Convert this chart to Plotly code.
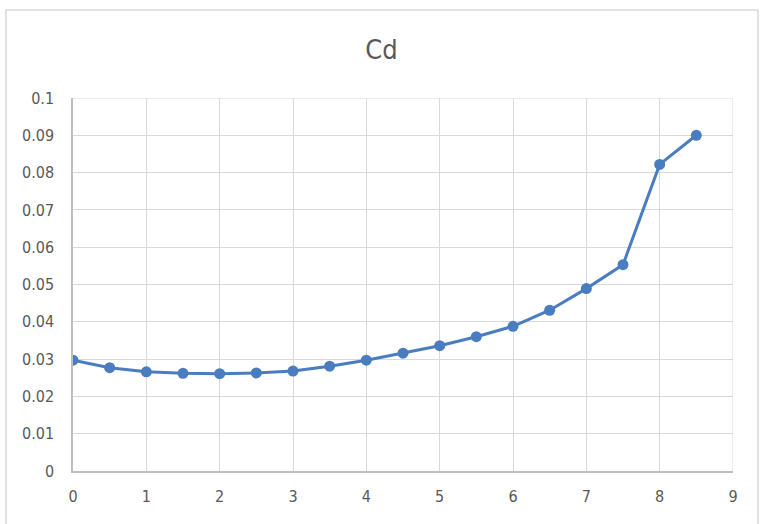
import plotly.graph_objects as go

# Drag coefficient samples
x_vals = [0, 0.5, 1, 1.5, 2, 2.5, 3, 3.5, 4, 4.5, 5, 5.5, 6, 6.5, 7, 7.5, 8, 8.5]
cd_vals = [0.0297, 0.0277, 0.0266, 0.0262, 0.0261, 0.0263, 0.0268, 0.0281, 0.0297,
           0.0316, 0.0336, 0.0360, 0.0388, 0.0431, 0.0489, 0.0553, 0.0822, 0.0900]

x_ticks = [0, 1, 2, 3, 4, 5, 6, 7, 8, 9]
y_ticks = [0, 0.01, 0.02, 0.03, 0.04, 0.05, 0.06, 0.07, 0.08, 0.09, 0.1]
y_labels = ["0", "0.01", "0.02", "0.03", "0.04", "0.05", "0.06", "0.07", "0.08", "0.09", "0.1"]

FONT = "Liberation Sans Narrow, DejaVu Sans Condensed, Arial Narrow, sans-serif"
LINE = "#4a7dbf"
GRID = "#d9d9d9"

fig = go.Figure(
    go.Scatter(
        x=x_vals, y=cd_vals, mode="lines+markers",
        line=dict(color=LINE, width=3),
        marker=dict(color=LINE, size=11),
        hoverinfo="x+y",
    )
)

fig.update_layout(
    width=763, height=524,
    margin=dict(l=73, r=30, t=98, b=53),
    paper_bgcolor="white", plot_bgcolor="white",
    showlegend=False,
    title=dict(text="Cd", x=0.5, xanchor="center", y=1 - 50 / 524, yanchor="middle",
               font=dict(family=FONT, size=27, color="#595959")),
    font=dict(family=FONT, size=16, color="#595959"),
    shapes=[
        dict(type="rect", xref="paper", yref="paper",
             x0=-67 / 660, x1=(758 - 73) / 660, y0=-0.3, y1=(471 - 10) / 373,
             line=dict(color="#d9d9d9", width=1.5), layer="below"),
    ],
)

fig.update_xaxes(
    range=[0, 9], tickvals=x_ticks, ticktext=[str(t) for t in x_ticks],
    showgrid=True, gridcolor=GRID, gridwidth=1,
    showline=True, linecolor="#bfbfbf", linewidth=1.5,
    zeroline=False, ticks="", ticklen=0, tickfont=dict(size=16),
    ticklabelstandoff=10,
    fixedrange=True,
)
fig.update_yaxes(
    range=[0, 0.1], tickvals=y_ticks, ticktext=y_labels,
    showgrid=True, gridcolor=GRID, gridwidth=1,
    showline=True, linecolor="#bfbfbf", linewidth=1.5,
    zeroline=False, ticks="", ticklen=0, tickfont=dict(size=16),
    ticklabelstandoff=14,
    fixedrange=True,
)

# grid closing edges at x=9 and y=0.1
fig.add_shape(type="line", xref="x", yref="y", x0=9, x1=9, y0=0, y1=0.1,
              line=dict(color=GRID, width=1), layer="below")
fig.add_shape(type="line", xref="x", yref="y", x0=0, x1=9, y0=0.1, y1=0.1,
              line=dict(color=GRID, width=1), layer="below")

fig.write_html("out.html")
